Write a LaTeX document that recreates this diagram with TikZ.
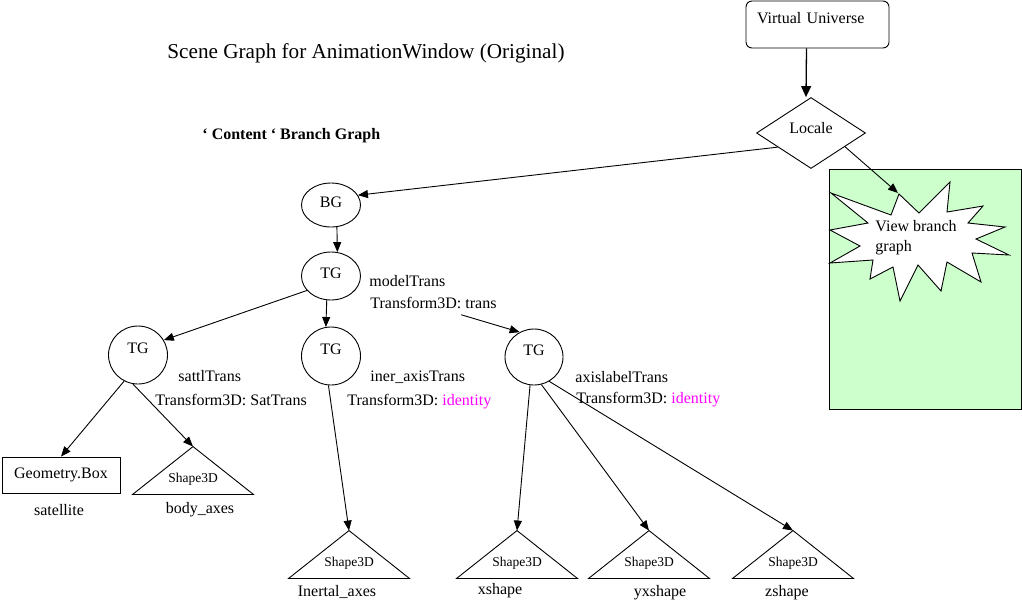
\documentclass[tikz,border=0pt]{standalone}
\usepackage{fontspec}
\setmainfont{Liberation Serif}
\usetikzlibrary{calc, positioning, arrows.meta, shapes.geometric}

\definecolor{viewgreen}{HTML}{CCFFCC}
\definecolor{idmagenta}{HTML}{FF00FF}

\begin{document}
\begin{tikzpicture}[
  x=1pt, y=-1pt,
  >={Triangle[length=10pt,width=8pt]},
  line width=0.9pt,
  font=\fontsize{16}{20}\selectfont,
  every node/.style={inner sep=0pt}
]
\tikzset{
  grp/.style={draw, ellipse, fill=white, minimum width=59pt, minimum height=44pt, text depth=6pt},
  tgnode/.style={draw, ellipse, fill=white, minimum width=59pt, minimum height=58pt, text depth=14pt},
  shp/.style={minimum width=120pt, minimum height=47pt, text height=24pt, text depth=0pt,
    font=\fontsize{13.5}{15}\selectfont},
  lbl/.style={anchor=west},
  idt/.style={text=idmagenta}
}
\useasboundingbox (0,0) rectangle (1022,614);

% ================= HEADINGS =================
\node[lbl, font=\fontsize{21.2}{25}\selectfont] (title) at (167,53) {Scene Graph for AnimationWindow (Original)};
\node[lbl, font=\fontsize{16}{20}\bfseries] (content) at (202,136) {‘ Content ‘ Branch Graph};

% ================= VIEW SIDE =================
\fill[viewgreen, draw=black] (829,169) rectangle (1021,409);
\draw[fill=white] (831,193) -- (891,215) -- (899,194) -- (919,213) -- (950,182) -- (947,212)
  -- (983,206) -- (968,223) -- (1005,227) -- (976,239) -- (1009,255) -- (972,253)
  -- (981,282) -- (947,262) -- (941,291) -- (918,265) -- (900,301) -- (893,267)
  -- (870,279) -- (873,260) -- (830,263) -- (860,246) -- (830,230) -- (868,223) -- cycle;
\node[align=left, anchor=west] (vbg) at (875,238) {View branch\\graph};
\coordinate (vbtip) at (898,193);

\node[draw, rounded corners=6pt, minimum height=47pt, text width=121pt, inner xsep=11pt,
  align=left, text depth=13.4pt] (vu) at (817.5,24.5) {Virtual Universe};
\node[draw, diamond, fill=white, minimum width=109pt, minimum height=71pt, text depth=10pt] (locale) at (811,133) {Locale};

% ================= CONTENT BRANCH =================
\node[grp] (bg) at (331,205) {BG};
\node[tgnode, minimum height=48pt, text depth=6pt] (tg1) at (331,276) {TG};
\node[tgnode] (tgl) at (138,355) {TG};
\node[tgnode] (tgm) at (331,356) {TG};
\node[tgnode, minimum width=58pt, minimum height=56pt] (tgr) at (534,357) {TG};

% ================= LEAVES =================
\node[draw, minimum width=118pt, minimum height=36pt] (gbox) at (61,475) {Geometry.Box};
\node[shp] (body)  at (193,470.5) {Shape3D};
\node[shp] (inert) at (349,554.5) {Shape3D};
\node[shp] (xs)    at (517,554.5) {Shape3D};
\node[shp] (yxs)   at (649,554.5) {Shape3D};
\node[shp] (zs)    at (793,554.5) {Shape3D};

\foreach \s in {body, inert, xs, yxs, zs}
  \draw (\s.south west) -- (\s.north) -- (\s.south east) -- cycle;

\node (satcap)   at (59,510)  {satellite};
\node (bodycap)  at (200,510) {body\_axes};
\node (inertcap) at (337,592) {Inertal\_axes};
\node (xcap)     at (500,591) {xshape};
\node (yxcap)    at (660,593) {yxshape};
\node (zcap)     at (787,593) {zshape};

% ===== Transform labels =====
\node[lbl] (modelname) at (369,281) {modelTrans};
\node[lbl] (modeltf)   at (370,303) {Transform3D: trans};
\node[lbl] (satname)   at (178,376) {sattlTrans};
\node[lbl] (sattf)     at (155,400) {Transform3D: SatTrans};
\node[lbl] (inername)  at (370,377) {iner\_axisTrans};
\node[lbl] (inertf)    at (347,402) {Transform3D: \textcolor{idmagenta}{identity}};
\node[lbl] (axisname)  at (575,377) {axislabelTrans};
\node[lbl] (axistf)    at (576,400) {Transform3D: \textcolor{idmagenta}{identity}};

% ===== Connectors =====
\draw[->, line width=1.3pt, >={Triangle[length=11pt,width=10pt]}]
  ($(vu.south)+(-11,0)$) -- ($(locale.north)+(-5,0)$);
\draw[->] (locale.203) -- (bg.20);
\draw[->] (locale.-22) -- (vbtip);
\draw[->] (bg.-75) -- (tg1.75);
\draw[->] (tg1.211) -- (tgl.30);
\draw[->] (tg1.-100) -- (tgm.100);
\draw[->] ($(tg1)!0.69!(tgr.120)$) -- (tgr.120);
\draw[->] (tgl.-118) -- (gbox.north);
\draw[->] (tgl.-100) -- (body.north);
\draw[->] (tgm.-95) -- (inert.north);
\draw[->] (tgr.-98) -- (xs.north);
\draw[->] (tgr.-75) -- (yxs.north);
\draw[->] (tgr.-58) -- (zs.north);
\end{tikzpicture}
\end{document}
